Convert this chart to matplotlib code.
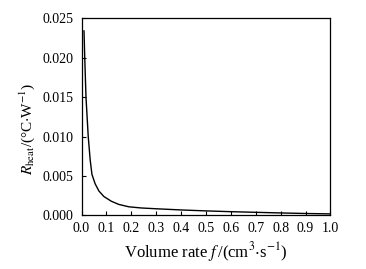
import matplotlib.pyplot as plt

# volume rate (cm^3/s) and heat resistance
flow = [0.010, 0.013, 0.018, 0.027, 0.035, 0.042, 0.055, 0.070, 0.090, 0.120,
        0.150, 0.190, 0.240, 0.300, 0.400, 0.500, 0.600, 0.700, 0.800, 0.900, 1.000]
r_heat = [0.0234, 0.0200, 0.0150, 0.0100, 0.0070, 0.0052, 0.0040, 0.0031, 0.0024, 0.0018,
          0.0014, 0.0011, 0.00095, 0.00085, 0.0007, 0.00058, 0.00048, 0.0004, 0.00032, 0.00025, 0.0002]

X_TICKS = [i / 10 for i in range(11)]
Y_TICKS = [0.000, 0.005, 0.010, 0.015, 0.020, 0.025]

plt.rcParams["font.family"] = ["Liberation Serif", "DejaVu Serif"]
plt.rcParams["mathtext.fontset"] = "stix"

fig = plt.figure(figsize=(3.66, 2.69), dpi=100)
ax = fig.add_axes([0.2227, 0.199, 0.680, 0.733])
ax.plot(flow, r_heat, color="black", linewidth=1.0)

ax.set_xlim(0, 1.0)
ax.set_ylim(0, 0.025)
ax.set_xticks(X_TICKS)
ax.set_yticks(Y_TICKS)
ax.set_xticklabels([f"{v:.1f}" for v in X_TICKS], fontsize=10)
ax.set_yticklabels([f"{v:.3f}" for v in Y_TICKS], fontsize=10)
ax.tick_params(direction="in", length=3, width=0.8, top=False, right=False)
ax.tick_params(axis="x", pad=5)
ax.tick_params(axis="y", pad=6)
for s in ax.spines.values():
    s.set_linewidth(0.9)

ax.set_xlabel(r"Volume rate $f\,$/(cm$^3$$\cdot$s$^{-1}$)", fontsize=12, labelpad=3)
ax.set_ylabel(r"$R_{\mathrm{heat}}$/(°C$\cdot$W$^{-1}$)", fontsize=11, labelpad=6)
ax.yaxis.set_label_coords(-0.18, 0.44)

fig.savefig("out.png", dpi=100)
